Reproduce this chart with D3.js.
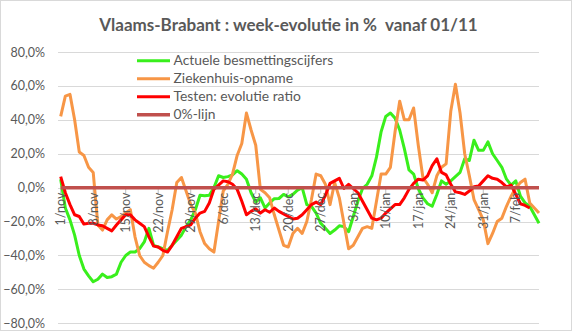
<!DOCTYPE html>
<html><head><meta charset="utf-8">
<script src="https://cdn.jsdelivr.net/npm/d3@7"></script>
<style>body{margin:0;background:#fff;} svg{display:block;font-family:Lato,"Open Sans",sans-serif;} .ttl{white-space:pre;}</style>
</head><body>
<svg id="c" width="576" height="333"></svg>
<script>
const title = "Vlaams-Brabant : week-evolutie in %  vanaf 01/11";
const seriesNames = ["Actuele besmettingscijfers","Ziekenhuis-opname","Testen: evolutie ratio","0%-lijn"];
const seriesColors = ["#39ef1c","#f79646","#ff0000","#c0504d"];
const yTicks = [-80,-60,-40,-20,0,20,40,60,80];
const tickLabels = ["1/nov","8/nov","15/nov","22/nov","29/nov","6/dec","13/dec","20/dec","27/dec","3/jan","10/jan","17/jan","24/jan","31/jan","7/feb"];

const green = [5,-12,-19,-28,-40,-48,-52,-55.5,-54,-51,-53,-52.5,-51,-44,-40,-38,-38,-36,-32,-24,
 -34,-35,-36,-37,-34,-31,-28,-23,-19,-13,-4.5,-4.8,-4.5,0,7,6,6.5,7.5,10,8,
 5,-3,-8.5,-6,-12,-9,-6.5,-6.4,-4,-5.4,-4,-1.5,0,-10,-11,-15,-21,-24,-27,-25,
 -22.5,-23,-26,-17,-8,-0.5,2,7,18,33,42,44,41,34,23,10.5,8,-0.5,-6,-9.5,
 -11,-4,4,2,4,6.5,9,17,16,28,22,22,27,20,16,12,5,1.5,4,-5,-9,-11,-16,-21];
const orange = [42,54,55,40,21,19,12,9,-22,-25,-19,-16,-18.5,-17,-15,-13,-29,-40,-44,-46,
 -47.5,-44,-40,-26,-13,3,6,-2,-10,-15,-26,-33,-36,-38,-20,-2,2,8,19,26,
 44,34,25,-1,-3,-6,-16,-25,-34,-35,-27,-24,-27,-20,-7,8,7,2,-10,3,
 -6,-21,-36,-34,-29,-24,-23,-24,-8,8,8,12,33,51,40,40,47,25,6,2,
 -3,7,12,14,45,61,44,20,7,-7,-13,-19,-33,-27,-20,-18,-11,-5,0,3,5,-9,-12,-15];
const red = [6.5,-3,-10,-16,-17,-21.5,-21,-21,-22,-22.5,-24,-25.5,-22,-19,-16,-16,-19,-21,-23,-29,
 -34.5,-35,-37,-38,-34,-29,-24,-23,-22,-18,-15,-14,-9,-1,1.5,4,3.5,2,-1,-8,
 -16,-14,-12.5,-15,-13,-14.5,-12,-14,-15.5,-17,-18.5,-18,-16,-13,-10,-8.5,-10,-4.5,2.5,4,
 5.5,-0.5,2,-0.5,-3,-8,-13,-18,-19,-18,-15,-12.5,-10,-10,-6,-1,2.5,5,4.5,7,
 13,17,9,7.5,2,-2.5,-3,-4,-2,0.5,1,4,7,5.5,5,3,0.5,1.5,-4,-9.5,-10.5,-12,null,null];
const zeroLine = green.map(() => 0);

const categories = d3.timeDay.range(new Date(2020,10,1), new Date(2020,10,1+green.length)).map(d => d3.timeFormat("%-d/%b")(d));

const svg = d3.select("#c");
const left = 58, right = 539, x0 = 60.7;
const x = d3.scalePoint().domain(d3.range(green.length)).range([x0, right]);
const y = d3.scaleLinear().domain([-80,80]).range([323.3, 52]);

// chart border
svg.append("rect").attr("x",0.5).attr("y",0.5).attr("width",571).attr("height",330)
  .attr("fill","none").attr("stroke","#d9d9d9");

// gridlines
svg.append("g").selectAll("line").data(yTicks).join("line")
  .attr("x1",left).attr("x2",right).attr("y1",d=>Math.round(y(d))+0.5).attr("y2",d=>Math.round(y(d))+0.5)
  .attr("stroke","#d9d9d9").attr("stroke-width",1);

// y labels
svg.append("g").selectAll("text").data(yTicks).join("text")
  .attr("x",45).attr("y",d=>y(d)+4.5).attr("text-anchor","end")
  .attr("font-size",12.5).attr("fill","#595959")
  .text(d=>d3.format(".1f")(d).replace(".",",")+"%");

// x tick marks
const tickIdx = tickLabels.map((t,i)=>i*7);
svg.append("g").selectAll("line").data(tickIdx).join("line")
  .attr("x1",i=>x(i)).attr("x2",i=>x(i)).attr("y1",y(0)).attr("y2",y(0)+6)
  .attr("stroke","#bfbfbf").attr("stroke-width",1);

// series
const line = d3.line().defined(d=>d[1]!=null).x(d=>x(d[0])).y(d=>y(d[1]));
const allSeries = [green, orange, red, zeroLine];
allSeries.forEach((s,k)=>{
  svg.append("path").datum(s.map((v,i)=>[i,v]))
    .attr("d",line).attr("fill","none").attr("stroke",seriesColors[k])
    .attr("stroke-width", k===3?3.5:3).attr("stroke-linejoin","round").attr("stroke-linecap","butt");
});

// x labels (rotated)
svg.append("g").selectAll("text").data(tickLabels).join("text")
  .attr("transform",(t,i)=>`translate(${x(i*7)+4.5},${y(0)+5}) rotate(-90)`)
  .attr("text-anchor","end").attr("font-size",12.5).attr("fill","#595959")
  .text(t=>t);

// title
const tt = svg.append("text").attr("class","ttl").attr("xml:space","preserve")
  .attr("x",288.5).attr("y",31).attr("text-anchor","middle")
  .attr("font-weight","bold").attr("font-size",16).attr("fill","#595959").text(title);
const tw = tt.node().getComputedTextLength();
tt.attr("font-size", 16*379/tw);

// legend
const lg = svg.append("g");
seriesNames.forEach((n,k)=>{
  const yy = 60.7 + k*18;
  lg.append("line").attr("x1",137).attr("x2",170).attr("y1",yy).attr("y2",yy)
    .attr("stroke",seriesColors[k]).attr("stroke-width",k===3?3.5:3);
  lg.append("text").attr("class","lt").attr("x",173.5).attr("y",yy+4.5)
    .attr("font-size",13).attr("fill","#595959").text(n);
});
const first = lg.select("text.lt").node();
const fs = 13*160/first.getComputedTextLength();
lg.selectAll("text.lt").attr("font-size",fs);
</script>
</body></html>
